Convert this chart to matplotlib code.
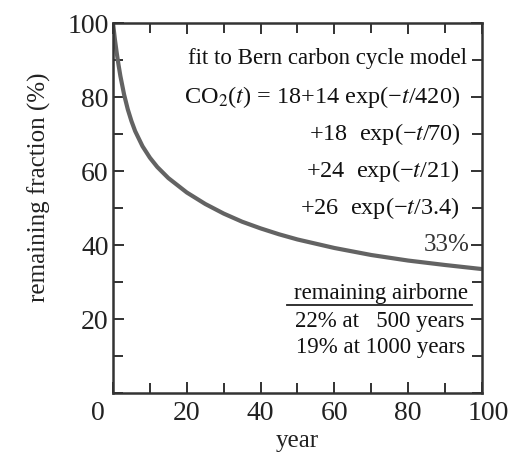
import matplotlib.pyplot as plt
import matplotlib.transforms as mtransforms
from matplotlib.ticker import MultipleLocator

plt.rcParams["font.family"] = ["Liberation Serif", "DejaVu Serif"]
plt.rcParams["mathtext.fontset"] = "stix"

# remaining fraction (%)
year = [0, 0.5, 1, 1.5, 2, 3, 4, 5, 6, 8, 10, 12, 15, 20, 25, 30, 35,
        40, 45, 50, 60, 70, 80, 90, 100]
remaining = [100, 95.7, 92.0, 88.7, 85.7, 80.7, 76.7, 73.5, 70.8, 66.7,
             63.6, 61.1, 58.1, 54.2, 51.1, 48.5, 46.3, 44.5, 42.9, 41.5,
             39.2, 37.3, 35.8, 34.6, 33.5]

fit_lines = [r"CO$_2$($t$) = 18+14 exp(−$t$/420)",
             r"+18  exp(−$t$/70)",
             r"+24  exp(−$t$/21)",
             r"+26  exp(−$t$/3.4)"]
fit_y = [80, 70, 60, 50]
airborne = ["22% at   500 years", "19% at 1000 years"]
airborne_y = [19.2, 12.4]

fig = plt.figure(figsize=(5.29, 4.61), dpi=100)
ax = fig.add_axes([0.2136, 0.1475, 0.6975, 0.8025])

ax.plot(year, remaining, color="#636363", lw=3, solid_capstyle="butt")

ax.set_xlim(0, 100)
ax.set_ylim(0, 100)
ax.xaxis.set_minor_locator(MultipleLocator(10))
ax.yaxis.set_minor_locator(MultipleLocator(10))
ax.set_yticks([20, 40, 60, 80, 100])
ax.set_xticks([0, 20, 40, 60, 80, 100])
ax.tick_params(which="both", direction="in", top=True, right=True,
               labelsize=20, colors="#222222", width=1.3)
ax.tick_params(which="major", length=8)
ax.tick_params(which="minor", length=7)
ax.tick_params(axis="x", pad=6)
ax.tick_params(axis="y", pad=3)
for s in ax.spines.values():
    s.set_linewidth(1.8)
    s.set_color("#333333")

# the "0" under the corner sits a bit left, the "100" a bit right
xlabels = ax.get_xticklabels()
xlabels[0].set_transform(xlabels[0].get_transform() + mtransforms.ScaledTranslation(-0.15, 0, fig.dpi_scale_trans))
xlabels[-1].set_transform(xlabels[-1].get_transform() + mtransforms.ScaledTranslation(0.06, 0, fig.dpi_scale_trans))

ax.set_xlabel("year", fontsize=18, color="#222222")
ax.set_ylabel("remaining fraction (%)", fontsize=18, color="#222222")
ax.xaxis.set_label_coords(0.5, -0.10)
ax.yaxis.set_label_coords(-0.168, 0.557)

ax.text(95.9, 90.3, "fit to Bern carbon cycle model", ha="right",
        va="center", fontsize=16.5, color="#111111")
for line, y in zip(fit_lines, fit_y):
    ax.text(94.0, y, line, ha="right", va="center", fontsize=17.5,
            color="#111111")

ax.text(96.7, 40, "33%", ha="right", va="center", fontsize=18,
        color="#333333")

ax.text(72.6, 27, "remaining airborne", ha="center", va="center",
        fontsize=16.5, color="#111111")
ax.plot([47.2, 97.3], [23.8, 23.8], color="#222222", lw=1.3)
for line, y in zip(airborne, airborne_y):
    ax.text(95.4, y, line, ha="right", va="center", fontsize=16.5,
            color="#111111")

fig.savefig("out.png", dpi=100)
